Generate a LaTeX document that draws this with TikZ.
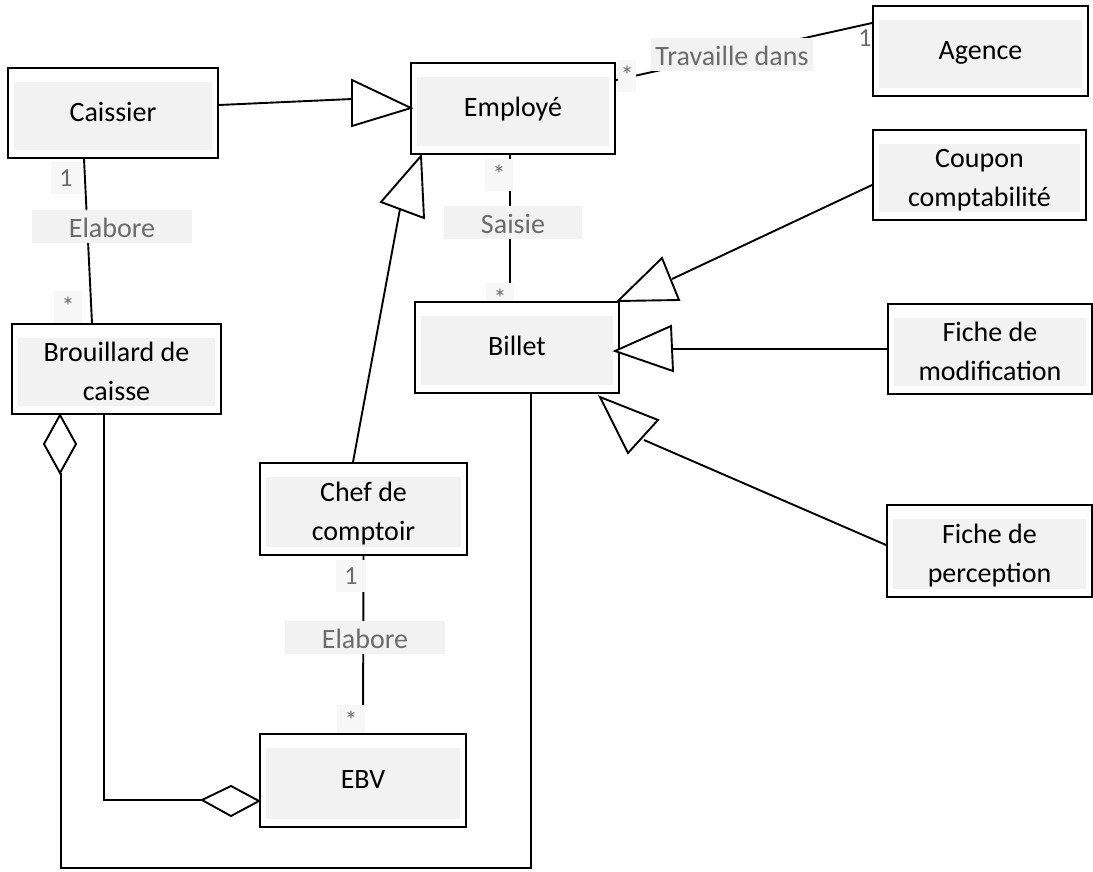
\documentclass[tikz,border=0pt]{standalone}
\usepackage{fontspec}
\setmainfont{Carlito}
\usetikzlibrary{calc}

\definecolor{band}{gray}{0.95}
\definecolor{lbltext}{gray}{0.42}

\pgfdeclarelayer{lines}
\pgfdeclarelayer{labels}
\pgfsetlayers{lines,labels,main}

\tikzset{
  cls/.style={draw, line width=1.9pt, fill=white, inner sep=0pt,
    minimum width=207pt, minimum height=91pt, align=center,
    font=\fontsize{28}{39}\selectfont, text height=22pt, text depth=6pt,
    path picture={\fill[band]
      ([xshift=6pt,yshift=8pt]path picture bounding box.south west) rectangle
      ([xshift=-6pt,yshift=-14pt]path picture bounding box.north east);}},
  cls2/.style={cls, text height=66pt, text depth=4pt},
  lbl/.style={fill=band, text=lbltext, inner xsep=37pt, inner ysep=3.5pt,
    text height=24pt, text depth=2pt, font=\fontsize{28}{34}\selectfont},
  mult/.style={fill=band!60!white, text=lbltext, inner xsep=8pt, inner ysep=4pt,
    text height=20pt, text depth=4pt, font=\fontsize{26}{30}\selectfont},
  link/.style={line width=1.9pt},
  tri/.style={line width=1.9pt, fill=white, line join=miter},
}

\begin{document}
\begin{tikzpicture}[x=1pt, y=-1pt]
\useasboundingbox (0,0) rectangle (1093,871);

% classes
\node[cls, minimum width=210pt, minimum height=90pt] (cais) at (113,113) {Caissier};
\node[cls, minimum width=204pt] (emp) at (513,108.5) {Employé};
\node[cls, minimum width=215pt, minimum height=90pt] (age) at (980.5,51) {Agence};
\node[cls2, minimum width=213pt, minimum height=90pt] (coup) at (979.5,175) {Coupon\\comptabilité};
\node[cls2, minimum width=209pt, minimum height=90pt] (brou) at (116.5,369) {Brouillard de\\caisse};
\node[cls, minimum width=204pt] (bil) at (517,347.5) {Billet};
\node[cls2, minimum width=204pt, minimum height=90pt] (fmod) at (990,349) {Fiche de\\modification};
\node[cls2, minimum height=92pt] (chef) at (363.5,509) {Chef de\\comptoir};
\node[cls2, minimum width=205pt, minimum height=92pt] (fper) at (989.5,551) {Fiche de\\perception};
\node[cls, minimum width=206pt, minimum height=93pt] (ebv) at (363,780.5) {EBV};

% bases of the generalisation triangles
\coordinate (g1) at (352,99);
\coordinate (g2) at (400,209);
\coordinate (g3) at (672,279);
\coordinate (g4) at (672,349);
\coordinate (g5) at (644,440);

\begin{pgfonlayer}{lines}
% generalisation lines
\draw[link] ($(cais.east)+(0,-8)$) -- (g1);
\draw[link] ($(chef.north)+(-10.5,0)$) -- (g2);
\draw[link] ($(coup.west)+(0,10)$) -- (g3);
\draw[link] (fmod.west) -- (g4);
\draw[link] ($(fper.west)+(0,-6)$) -- (g5);

% aggregation lines
\coordinate (a1) at (61,868);
\coordinate (a1d) at (61,473);
\draw[link] ($(bil.south)+(14,0)$) |- (a1) -- (a1d);
\coordinate (a2) at (202,800);
\draw[link] ($(brou.south)+(-12.5,0)$) |- (a2);

% associations
\draw[link] ($(cais.south)+(-29,0)$) -- ($(brou.north)+(-24.5,0)$);
\draw[link] ($(emp.north east)+(0,18)$) -- ($(age.west)+(0,-28)$);
\draw[link] ($(emp.south)+(-3,0)$) -- ($(bil.north)+(-7,0)$);
\draw[link] (chef.south) -- (ebv.north);
\end{pgfonlayer}

\begin{pgfonlayer}{labels}
\node[lbl] (l1) at (112,226.5) {Elabore};
\node[mult] (m1a) at (66,178) {1};
\node[mult] (m1b) at (68,307) {*};

\node[lbl, inner xsep=4pt] (l2) at (732,54) {Travaille dans};
\node[mult, inner xsep=3pt] (m2a) at (627,76) {*};
\node[mult, inner xsep=3pt, fill=none] (m2b) at (865,38) {1};

\node[lbl] (l3) at (513,222) {Saisie};
\node[mult] (m3a) at (499,175) {*};
\node[mult] (m3b) at (500,299) {*};

\node[lbl] (l4) at (365,637) {Elabore};
\node[mult] (m4a) at (351,576) {1};
\node[mult] (m4b) at (351,721) {*};
\end{pgfonlayer}

% open triangles (generalisation)
\draw[tri] (411,108) -- (352,80) -- (352,126) -- cycle;
\draw[tri] (421,156) -- (381,202) -- (424,218) -- cycle;
\draw[tri] (618,301) -- (662,258) -- (679,300) -- cycle;
\draw[tri] (615,351) -- (671,326) -- (673,371) -- cycle;
\draw[tri] (600,397) -- (658,420) -- (628,453) -- cycle;

% open diamonds (aggregation)
\draw[tri] (60,415) -- (44,444) -- (60,473) -- (76,444) -- cycle;
\draw[tri] (202,800) -- (231,786) -- (259,801) -- (231,816) -- cycle;

\end{tikzpicture}
\end{document}
